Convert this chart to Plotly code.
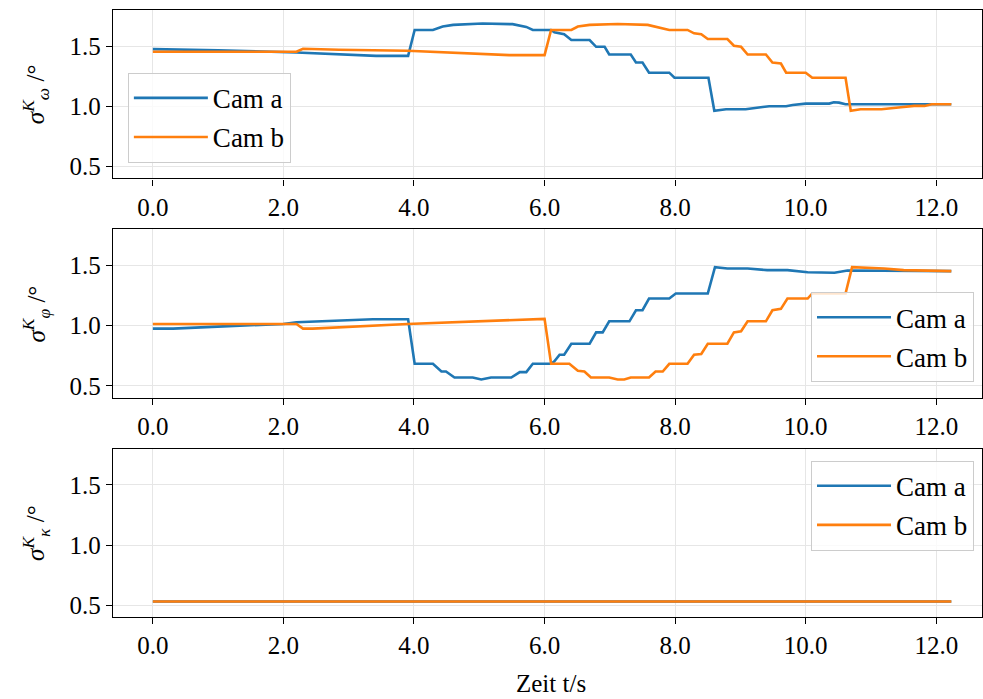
import plotly.graph_objects as go

# ---------------- data (vertices) ----------------
t_omega_a = [0.0, 0.31, 1.0, 2.2, 2.86, 3.42, 3.91, 4.01, 4.29, 4.44,
             4.60, 5.05, 5.51, 5.62, 5.72, 5.82, 6.10, 6.15, 6.30, 6.41,
             6.69, 6.79, 6.92, 6.99, 7.32, 7.40, 7.50, 7.60, 7.91, 7.99,
             8.51, 8.60, 8.78, 9.08, 9.19, 9.34, 9.44, 9.70, 9.80, 10.0,
             10.36, 10.43, 10.51, 10.61, 12.23]
omega_a = [1.475, 1.472, 1.465, 1.447, 1.430, 1.419, 1.419, 1.634, 1.634, 1.662,
           1.676, 1.687, 1.682, 1.670, 1.659, 1.634, 1.634, 1.615, 1.598, 1.550,
           1.550, 1.494, 1.494, 1.430, 1.430, 1.363, 1.363, 1.279, 1.279, 1.237,
           1.237, 0.962, 0.975, 0.975, 0.985, 0.994, 1.000, 1.000, 1.011, 1.022,
           1.022, 1.033, 1.030, 1.017, 1.017]

t_omega_b = [0.0, 2.20, 2.30, 2.85, 3.90, 4.44, 4.95, 5.46, 6.00, 6.10,
             6.41, 6.51, 6.69, 7.12, 7.58, 7.68, 7.78, 7.91, 8.19, 8.29,
             8.40, 8.50, 8.80, 8.90, 9.01, 9.11, 9.39, 9.49, 9.62, 9.70,
             10.00, 10.10, 10.61, 10.69, 10.84, 11.16, 11.46, 11.66, 11.82, 11.93,
             12.23]
omega_b = [1.453, 1.453, 1.478, 1.469, 1.461, 1.447, 1.433, 1.425, 1.425, 1.634,
           1.634, 1.662, 1.676, 1.684, 1.676, 1.662, 1.654, 1.634, 1.634, 1.606,
           1.598, 1.559, 1.559, 1.503, 1.494, 1.430, 1.430, 1.363, 1.355, 1.279,
           1.279, 1.237, 1.237, 0.962, 0.975, 0.975, 0.992, 1.003, 1.003, 1.017,
           1.017]

t_phi_a = [0.0, 0.31, 1.33, 2.0, 2.20, 2.66, 3.12, 3.37, 3.91, 4.01,
           4.29, 4.42, 4.49, 4.62, 4.90, 5.03, 5.18, 5.49, 5.62, 5.72,
           5.82, 6.10, 6.15, 6.23, 6.30, 6.41, 6.69, 6.79, 6.89, 6.99,
           7.30, 7.40, 7.50, 7.60, 7.91, 8.01, 8.50, 8.61, 8.80, 9.11,
           9.41, 9.72, 10.03, 10.44, 10.64, 12.23]
phi_a = [0.975, 0.975, 1.000, 1.014, 1.028, 1.036, 1.044, 1.053, 1.053, 0.683,
         0.683, 0.619, 0.619, 0.569, 0.569, 0.553, 0.569, 0.569, 0.614, 0.614,
         0.683, 0.683, 0.703, 0.758, 0.758, 0.850, 0.850, 0.944, 0.944, 1.036,
         1.036, 1.128, 1.128, 1.225, 1.225, 1.267, 1.267, 1.486, 1.475, 1.475,
         1.461, 1.461, 1.444, 1.439, 1.458, 1.453]

t_phi_b = [0.0, 2.20, 2.30, 2.45, 3.90, 4.95, 5.46, 6.00, 6.10, 6.38,
           6.51, 6.61, 6.71, 6.99, 7.12, 7.22, 7.32, 7.60, 7.70, 7.81,
           7.91, 8.19, 8.29, 8.40, 8.50, 8.80, 8.90, 9.01, 9.11, 9.39,
           9.49, 9.62, 9.72, 10.03, 10.10, 10.61, 10.71, 11.20, 11.50, 12.23]
phi_b = [1.014, 1.014, 0.975, 0.975, 1.014, 1.036, 1.050, 1.056, 0.683, 0.683,
         0.625, 0.619, 0.569, 0.569, 0.553, 0.553, 0.569, 0.569, 0.619, 0.619,
         0.683, 0.683, 0.758, 0.764, 0.850, 0.850, 0.944, 0.953, 1.036, 1.036,
         1.128, 1.139, 1.225, 1.225, 1.267, 1.267, 1.486, 1.475, 1.461, 1.453]

t_kappa = [0.0, 12.23]
kappa_a = [0.531, 0.531]
kappa_b = [0.531, 0.531]

series_names = ["Cam a", "Cam b"]
x_ticks = [0, 2, 4, 6, 8, 10, 12]
y_ticks = [0.5, 1.0, 1.5]
y_titles = ["<i>σ</i><sup><i>K</i></sup><sub><i>ω</i></sub> /°",
            "<i>σ</i><sup><i>K</i></sup><sub><i>φ</i></sub> /°",
            "<i>σ</i><sup><i>K</i></sup><sub><i>κ</i></sub> /°"]
x_title = "Zeit t/s"

# ---------------- styling ----------------
W, H = 983, 699
FONT = "Liberation Serif"
FS = 25
LEG_FS = 27
BLUE = "#1f77b4"
ORANGE = "#ff7f0e"
GRID = "#e6e6e6"

panels = [
    (t_omega_a, omega_a, t_omega_b, omega_b),
    (t_phi_a, phi_a, t_phi_b, phi_b),
    (t_kappa, kappa_a, t_kappa, kappa_b),
]
# pixel rows of the plot areas (top, bottom)
rows_px = [(10, 179), (230, 399), (450, 619)]
x_left_px = 113

fig = go.Figure()
legend_ids = ["legend", "legend2", "legend3"]

for i, (ta, va, tb, vb) in enumerate(panels):
    sfx = "" if i == 0 else str(i + 1)
    for t, v, name, col in ((ta, va, series_names[0], BLUE),
                            (tb, vb, series_names[1], ORANGE)):
        fig.add_trace(go.Scatter(
            x=t, y=v, mode="lines", name=name,
            line=dict(color=col, width=2.6),
            xaxis="x" + sfx, yaxis="y" + sfx,
            legend=legend_ids[i], legendgroup=name + str(i),
        ))

layout = dict(
    width=W, height=H,
    margin=dict(l=0, r=0, t=0, b=0),
    paper_bgcolor="white", plot_bgcolor="white",
    font=dict(family=FONT, size=FS, color="black"),
    showlegend=True,
)

for i, (top, bot) in enumerate(rows_px):
    sfx = "" if i == 0 else str(i + 1)
    dom_y = [1 - bot / H, 1 - top / H]
    layout["xaxis" + sfx] = dict(
        domain=[x_left_px / W, 1.0], range=[-0.612, 12.70],
        anchor="y" + sfx, tickvals=x_ticks, tickformat=".1f",
        ticks="outside", ticklen=6, tickwidth=1.2, tickcolor="black",
        showline=True, linecolor="black", linewidth=1.3, mirror=True,
        showgrid=True, gridcolor=GRID, gridwidth=1, zeroline=False,
        tickfont=dict(family=FONT, size=FS, color="black"),
    )
    layout["yaxis" + sfx] = dict(
        domain=dom_y, range=[0.4, 1.8], anchor="x" + sfx,
        tickvals=y_ticks, tickformat=".1f",
        ticks="outside", ticklen=6, tickwidth=1.2, tickcolor="black",
        showline=True, linecolor="black", linewidth=1.3, mirror=True,
        showgrid=True, gridcolor=GRID, gridwidth=1, zeroline=False,
        tickfont=dict(family=FONT, size=FS, color="black"),
    )

leg_common = dict(
    bgcolor="rgba(255,255,255,0.8)", bordercolor="#cccccc", borderwidth=1,
    font=dict(family=FONT, size=LEG_FS, color="black"),
    itemwidth=74, tracegroupgap=1, yanchor="top",
)
layout["legend"] = dict(leg_common, x=128 / W, xanchor="left", y=1 - 73 / H)
layout["legend2"] = dict(leg_common, x=975 / W, xanchor="right", y=1 - 293 / H)
layout["legend3"] = dict(leg_common, x=975 / W, xanchor="right", y=1 - 462 / H)

annotations = []
for i, (top, bot) in enumerate(rows_px):
    annotations.append(dict(
        text=y_titles[i], xref="paper", yref="paper",
        x=36 / W, y=1 - (top + bot) / 2 / H, xanchor="center", yanchor="middle",
        textangle=-90, showarrow=False,
        font=dict(family=FONT, size=FS, color="black"),
    ))
annotations.append(dict(
    text=x_title, xref="paper", yref="paper",
    x=552 / W, y=1 - 685 / H, xanchor="center", yanchor="middle",
    showarrow=False, font=dict(family=FONT, size=FS, color="black"),
))
layout["annotations"] = annotations

fig.update_layout(**layout)
fig.write_html("out.html")
